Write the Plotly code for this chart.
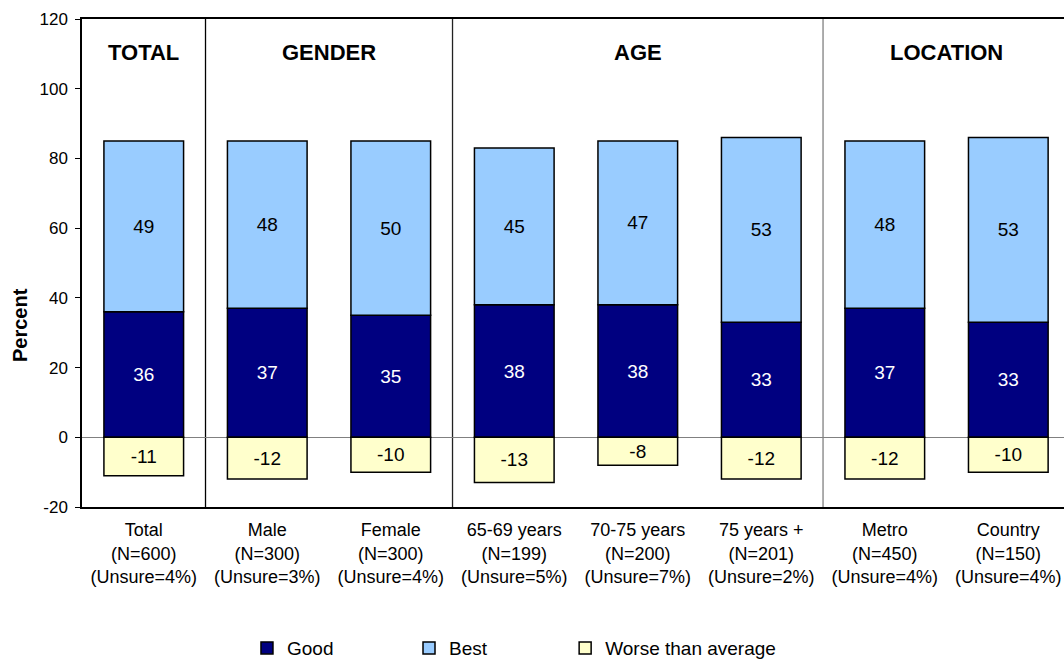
import plotly.graph_objects as go

categories = [
    "Total<br>(N=600)<br>(Unsure=4%)",
    "Male<br>(N=300)<br>(Unsure=3%)",
    "Female<br>(N=300)<br>(Unsure=4%)",
    "65-69 years<br>(N=199)<br>(Unsure=5%)",
    "70-75 years<br>(N=200)<br>(Unsure=7%)",
    "75 years +<br>(N=201)<br>(Unsure=2%)",
    "Metro<br>(N=450)<br>(Unsure=4%)",
    "Country<br>(N=150)<br>(Unsure=4%)",
]
good = [36, 37, 35, 38, 38, 33, 37, 33]
best = [49, 48, 50, 45, 47, 53, 48, 53]
worse = [-11, -12, -10, -13, -8, -12, -12, -10]

groups = ["TOTAL", "GENDER", "AGE", "LOCATION"]
group_centers = [0, 1.5, 4, 6.5]
separators = [0.5, 2.5, 5.5]
y_ticks = [-20, 0, 20, 40, 60, 80, 100, 120]
y_tick_labels = ["-20", "0", "20", "40", "60", "80", "100", "120"]

FONT = "Liberation Sans, Arial, sans-serif"
x = list(range(len(categories)))

fig = go.Figure()
common = dict(width=0.645, textposition="inside", insidetextanchor="middle",
              textangle=0, hoverinfo="skip", marker_line=dict(color="black", width=1.5))
fig.add_trace(go.Bar(x=x, y=good, name="Good", marker_color="#000080",
                     text=[str(v) for v in good], legend="legend",
                     textfont=dict(color="white", size=19, family=FONT), **common))
fig.add_trace(go.Bar(x=x, y=best, name="Best", marker_color="#99CCFF",
                     text=[str(v) for v in best], legend="legend2",
                     textfont=dict(color="black", size=19, family=FONT), **common))
fig.add_trace(go.Bar(x=x, y=worse, name="Worse than average", marker_color="#FFFFCC",
                     text=[str(v) for v in worse], legend="legend3",
                     textfont=dict(color="black", size=19, family=FONT), **common))

shapes = []
sep_colors = ["black", "#222222", "#808080"]
for s, c in zip(separators, sep_colors):
    shapes.append(dict(type="line", xref="x", yref="paper", x0=s, x1=s, y0=0, y1=1,
                       line=dict(color=c, width=1.3), layer="below"))

annotations = []
for g, cx in zip(groups, group_centers):
    annotations.append(dict(x=cx, y=110.5, xref="x", yref="y", text="<b>%s</b>" % g,
                            showarrow=False, xanchor="center", yanchor="middle",
                            font=dict(size=22, family=FONT, color="black")))
annotations.append(dict(x=-0.0631, y=0.373, xref="paper", yref="paper", text="<b>Percent</b>",
                        textangle=-90, showarrow=False, xanchor="center", yanchor="middle",
                        font=dict(size=20, family=FONT, color="black")))

legend_common = dict(orientation="h", y=-0.289, xanchor="left", yanchor="middle",
                     font=dict(size=19, family=FONT, color="black"),
                     itemwidth=30, bgcolor="rgba(0,0,0,0)")

fig.update_layout(
    width=1064, height=659,
    margin=dict(l=82, r=0, t=19, b=152, autoexpand=False),
    barmode="relative",
    plot_bgcolor="white", paper_bgcolor="white",
    font=dict(family=FONT, color="black"),
    uniformtext=dict(minsize=16, mode="show"),
    shapes=shapes,
    annotations=annotations,
    showlegend=True,
    legend=dict(x=0.168, **legend_common),
    legend2=dict(x=0.333, **legend_common),
    legend3=dict(x=0.492, **legend_common),
    xaxis=dict(range=[-0.5, 7.451], tickmode="array", tickvals=x, ticktext=categories,
               showline=True, linecolor="black", linewidth=1.5, mirror=True,
               ticks="", showgrid=False, zeroline=False, automargin=False,
               tickfont=dict(size=18, family=FONT, color="black"),
               ticklabelstandoff=6),
    yaxis=dict(range=[-20, 120], tickmode="array", tickvals=y_ticks, ticktext=y_tick_labels,
               showline=True, linecolor="black", linewidth=1.5,
               ticks="outside", ticklen=5, tickcolor="black", automargin=False,
               ticklabelstandoff=4,
               showgrid=False, zeroline=True, zerolinecolor="#808080", zerolinewidth=1,
               tickfont=dict(size=17, family=FONT, color="black")),
)

fig.write_html(
    "out.html",
    config={"displayModeBar": False},
    post_script="document.body.style.margin='0px';document.body.style.overflow='hidden';",
)
